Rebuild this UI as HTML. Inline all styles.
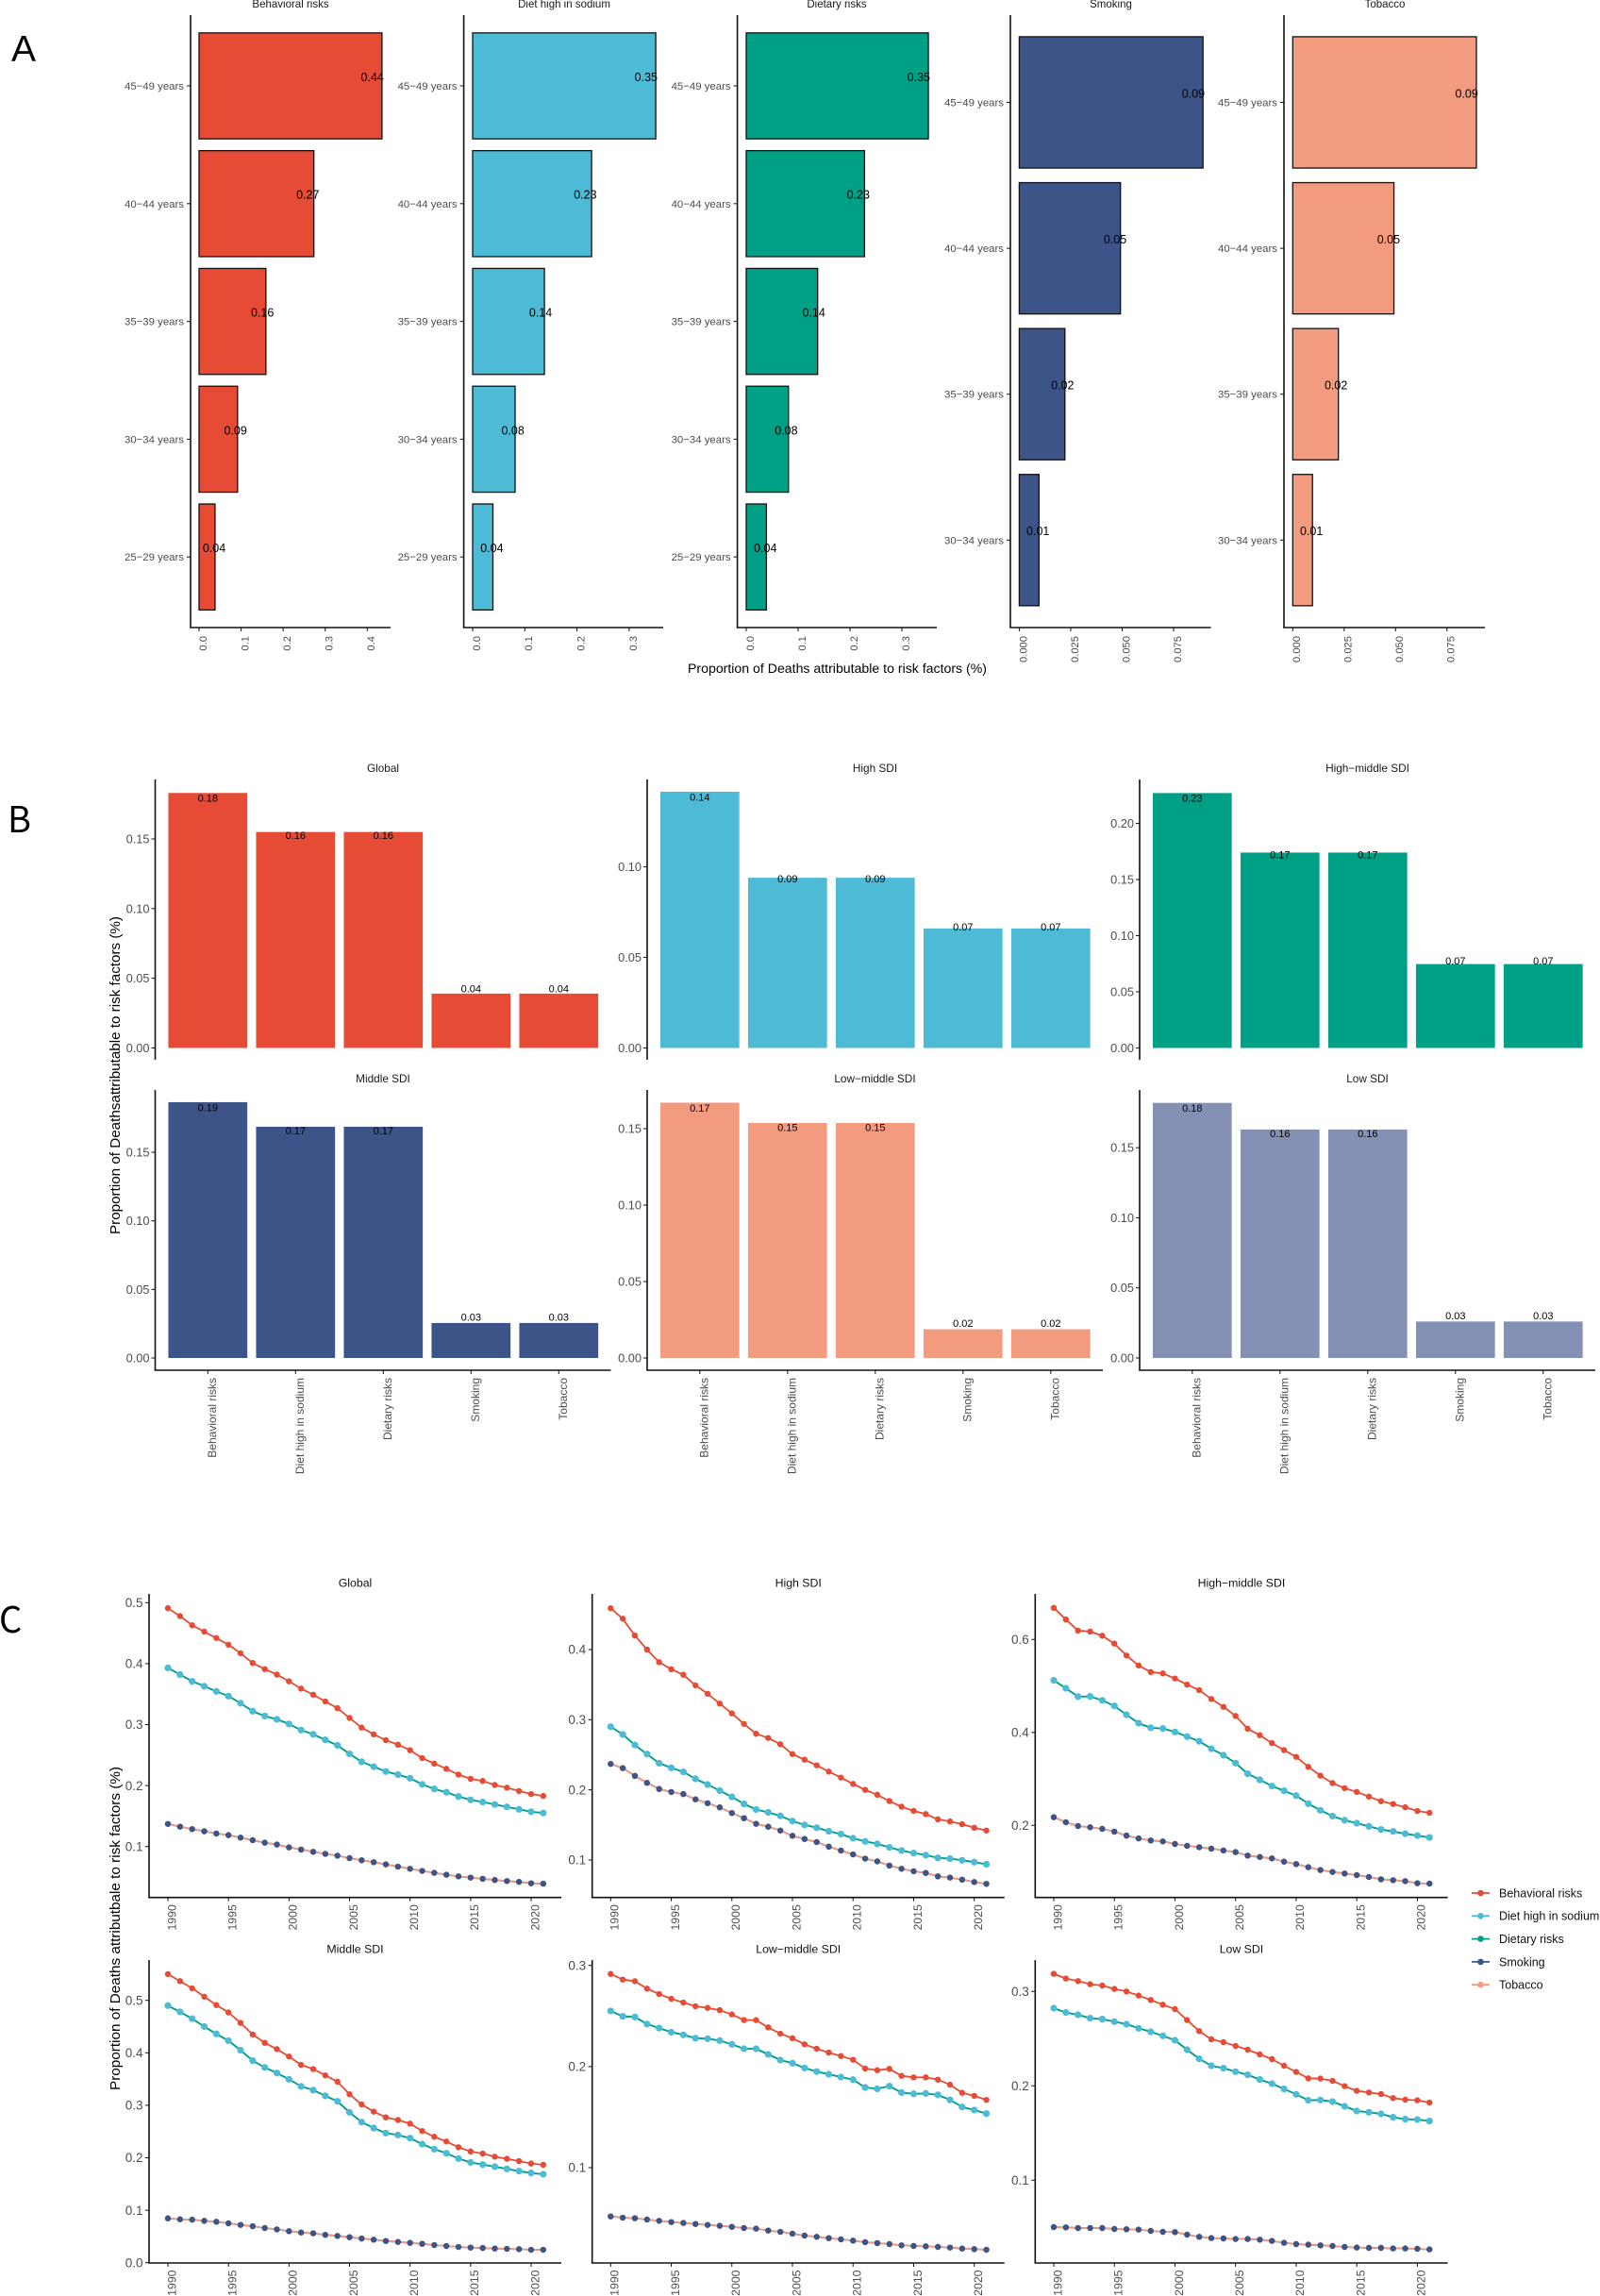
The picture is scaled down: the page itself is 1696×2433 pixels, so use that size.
<!DOCTYPE html>
<html lang="en">
<head>
<meta charset="utf-8">
<title>Proportion of deaths attributable to risk factors</title>
<style>
html,body{margin:0;padding:0;background:#fff;}
svg{display:block;font-family:"Liberation Sans",Arial,sans-serif;}
</style>
</head>
<body>
<svg id="figure" xmlns="http://www.w3.org/2000/svg" width="1696" height="2433" viewBox="0 0 1696 2433">
  <rect x="0" y="0" width="1696" height="2433" fill="#ffffff"/>
  <text x="12" y="65" font-size="39" fill="#000">A</text>
  <text x="8" y="882" font-size="38" fill="#000" style="font-family:'Noto Sans CJK SC',sans-serif">B</text>
  <text x="-1" y="1730" font-size="38" fill="#000" style="font-family:'Noto Sans CJK SC',sans-serif">C</text>
  <text x="887.5" y="713" font-size="14" fill="#000" text-anchor="middle" textLength="317" lengthAdjust="spacingAndGlyphs">Proportion of Deaths attributable to risk factors (%)</text>
  <text transform="translate(127,1139.5) rotate(-90)" font-size="15" fill="#000" text-anchor="middle" textLength="337" lengthAdjust="spacingAndGlyphs">Proportion of Deathsattributable to risk factors (%)</text>
  <text transform="translate(127,2043.5) rotate(-90)" font-size="15" fill="#000" text-anchor="middle" textLength="343" lengthAdjust="spacingAndGlyphs">Proportion of Deaths attributbale to risk factors (%)</text>
  <g id="panel-a"></g>
  <g id="panel-b"></g>
  <g id="panel-c"></g>
  <g id="legend"></g>
</svg>
<script>
/* ---------- Panel A data ---------- */
const agesFive = ["45\u221249 years","40\u221244 years","35\u221239 years","30\u221234 years","25\u221229 years"];
const agesFour = ["45\u221249 years","40\u221244 years","35\u221239 years","30\u221234 years"];
const behavioralByAge = [0.435,0.273,0.159,0.0915,0.038];
const behavioralByAgeLabels = ["0.44","0.27","0.16","0.09","0.04"];
const dietByAge = [0.351,0.228,0.1376,0.0814,0.0389];
const dietByAgeLabels = ["0.35","0.23","0.14","0.08","0.04"];
const dietaryByAge = [0.351,0.228,0.1376,0.0814,0.0389];
const dietaryByAgeLabels = ["0.35","0.23","0.14","0.08","0.04"];
const smokingByAge = [0.0893,0.0492,0.0222,0.0096];
const smokingByAgeLabels = ["0.09","0.05","0.02","0.01"];
const tobaccoByAge = [0.0893,0.0492,0.0222,0.0096];
const tobaccoByAgeLabels = ["0.09","0.05","0.02","0.01"];
const ageTicksBehavioral = ["0.0","0.1","0.2","0.3","0.4"];
const ageTicksDiet = ["0.0","0.1","0.2","0.3"];
const ageTicksSmoking = ["0.000","0.025","0.050","0.075"];

/* ---------- Panel B data ---------- */
const riskNames = ["Behavioral risks","Diet high in sodium","Dietary risks","Smoking","Tobacco"];
const globalBars = [0.183,0.155,0.155,0.039,0.039];
const globalBarLabels = ["0.18","0.16","0.16","0.04","0.04"];
const highBars = [0.1415,0.094,0.094,0.066,0.066];
const highBarLabels = ["0.14","0.09","0.09","0.07","0.07"];
const highMiddleBars = [0.227,0.174,0.174,0.0747,0.0747];
const highMiddleBarLabels = ["0.23","0.17","0.17","0.07","0.07"];
const middleBars = [0.1865,0.1686,0.1686,0.0255,0.0255];
const middleBarLabels = ["0.19","0.17","0.17","0.03","0.03"];
const lowMiddleBars = [0.167,0.1537,0.1537,0.0188,0.0188];
const lowMiddleBarLabels = ["0.17","0.15","0.15","0.02","0.02"];
const lowBars = [0.182,0.163,0.163,0.026,0.026];
const lowBarLabels = ["0.18","0.16","0.16","0.03","0.03"];
const barTicksStandard = ["0.00","0.05","0.10","0.15"];
const barTicksHigh = ["0.00","0.05","0.10"];
const barTicksHighMiddle = ["0.00","0.05","0.10","0.15","0.20"];

/* ---------- Panel C data ---------- */
const years = [1990,1991,1992,1993,1994,1995,1996,1997,1998,1999,2000,2001,2002,2003,2004,2005,2006,2007,2008,2009,2010,2011,2012,2013,2014,2015,2016,2017,2018,2019,2020,2021];
const yearTicks = ["1990","1995","2000","2005","2010","2015","2020"];

const globalBehavioral = [.491,.478,.463,.4525,.442,.431,.417,.401,.391,.382,.371,.359,.349,.338,.327,.311,.295,.284,.2745,.267,.258,.245,.236,.2275,.218,.211,.2075,.201,.1965,.191,.186,.183];
const globalDiet = [.393,.382,.371,.363,.3545,.3467,.335,.322,.314,.3086,.301,.291,.284,.275,.266,.252,.239,.231,.223,.218,.212,.202,.1945,.189,.182,.1765,.173,.169,.165,.161,.157,.155];
const globalDietary = [...globalDiet];
const globalSmoking = [.137,.1326,.1285,.125,.1213,.1187,.1146,.1104,.1063,.1032,.0986,.095,.0913,.088,.085,.081,.0774,.0743,.0707,.067,.0635,.06,.0568,.0537,.051,.049,.047,.045,.0434,.042,.0397,.039];
const globalTobacco = [...globalSmoking];
const globalTicks = ["0.1","0.2","0.3","0.4","0.5"];

const highBehavioral = [.459,.444,.42,.4,.382,.372,.364,.349,.337,.323,.309,.294,.28,.274,.265,.251,.243,.235,.226,.2175,.2085,.2,.193,.184,.176,.17,.1655,.158,.155,.151,.146,.142];
const highDiet = [.29,.279,.264,.251,.238,.2314,.2256,.2157,.2076,.199,.19,.18,.172,.168,.163,.1556,.15,.146,.141,.137,.131,.1265,.123,.118,.1135,.11,.107,.103,.102,.0996,.097,.094];
const highDietary = [...highDiet];
const highSmoking = [.237,.231,.22,.21,.2013,.197,.194,.1865,.181,.175,.167,.1596,.1516,.1475,.142,.1345,.13,.1256,.119,.1135,.108,.102,.098,.092,.0875,.084,.0816,.0767,.075,.072,.0686,.066];
const highTobacco = [...highSmoking];
const highTicks = ["0.1","0.2","0.3","0.4"];

const highMiddleBehavioral = [.668,.643,.619,.617,.608,.591,.5655,.544,.53,.527,.516,.503,.491,.472,.455,.4355,.408,.394,.377,.362,.3475,.326,.307,.291,.28,.272,.262,.252,.246,.239,.231,.227];
const highMiddleDiet = [.512,.495,.477,.4775,.469,.457,.438,.42,.41,.4085,.401,.391,.381,.365,.351,.334,.311,.298,.2846,.2745,.264,.2467,.2325,.22,.211,.2047,.198,.191,.187,.182,.178,.174];
const highMiddleDietary = [...highMiddleDiet];
const highMiddleSmoking = [.2176,.2068,.1986,.196,.1925,.1865,.178,.172,.1675,.1655,.16,.156,.153,.15,.146,.1425,.135,.132,.129,.122,.1167,.11,.104,.0998,.0964,.093,.089,.084,.082,.08,.0755,.0748];
const highMiddleTobacco = [...highMiddleSmoking];
const highMiddleTicks = ["0.2","0.4","0.6"];

const middleBehavioral = [.55,.5366,.523,.507,.491,.477,.457,.435,.419,.407,.393,.377,.369,.357,.345,.321,.3016,.288,.277,.272,.265,.251,.24,.231,.22,.212,.208,.202,.198,.1936,.189,.1865];
const middleDiet = [.49,.478,.465,.45,.436,.423,.405,.385,.372,.3615,.3495,.336,.329,.318,.3076,.2866,.268,.2566,.247,.2434,.2374,.226,.2164,.2086,.1984,.191,.187,.183,.1787,.1745,.171,.1685];
const middleDietary = [...middleDiet];
const middleSmoking = [.0845,.0827,.082,.0797,.078,.075,.072,.0695,.066,.0635,.06,.0575,.056,.053,.051,.0486,.046,.0438,.0414,.0396,.0378,.036,.0336,.0318,.03,.0288,.028,.027,.0264,.0258,.0246,.0246];
const middleTobacco = [...middleSmoking];
const middleTicks = ["0.0","0.1","0.2","0.3","0.4","0.5"];

const lowMiddleBehavioral = [.2916,.286,.2844,.277,.2717,.267,.2633,.2596,.258,.2558,.2515,.246,.2459,.2387,.2325,.228,.222,.2176,.2138,.2104,.2067,.198,.1964,.1977,.1908,.1893,.1893,.187,.182,.174,.171,.167];
const lowMiddleDiet = [.255,.2496,.249,.242,.238,.234,.2313,.228,.2275,.2257,.222,.2176,.2176,.212,.2064,.2033,.1986,.195,.1924,.1896,.187,.1793,.178,.1806,.1743,.173,.1734,.172,.167,.16,.157,.1535];
const lowMiddleDietary = [...lowMiddleDiet];
const lowMiddleSmoking = [.0518,.0505,.05,.0487,.0474,.0462,.0453,.0443,.0434,.0425,.0415,.0403,.0397,.0378,.0365,.0347,.0328,.0316,.0303,.0291,.0278,.0263,.0254,.0244,.0232,.0226,.0222,.0216,.021,.02,.0194,.0188];
const lowMiddleTobacco = [...lowMiddleSmoking];
const lowMiddleTicks = ["0.1","0.2","0.3"];

const lowBehavioral = [.3187,.3137,.311,.3077,.3063,.3027,.3,.2957,.291,.286,.2813,.2697,.258,.2493,.2463,.2423,.2383,.2333,.2283,.2213,.2147,.208,.2077,.2053,.1997,.1947,.193,.1913,.187,.1853,.1847,.1823];
const lowDiet = [.2823,.2777,.2753,.2717,.2707,.268,.2653,.261,.2573,.253,.2483,.2383,.2287,.2213,.2187,.215,.2117,.2067,.2023,.1967,.191,.1847,.185,.1833,.1783,.1733,.172,.1703,.1667,.1647,.1643,.1627];
const lowDietary = [...lowDiet];
const lowSmoking = [.0503,.05,.0493,.0493,.0493,.0483,.048,.0477,.0463,.0453,.045,.0423,.04,.0387,.0383,.0377,.0377,.037,.0357,.0337,.0323,.0317,.031,.0303,.0293,.0287,.0283,.0283,.0277,.0277,.0273,.0267];
const lowTobacco = [...lowSmoking];
const lowTicks = ["0.1","0.2","0.3"];

/* ---------- Palette ---------- */
const RED = "#E64B35", CYAN = "#4DBBD5", GREEN = "#00A087", NAVY = "#3C5488", SALMON = "#F39B7F", SLATE = "#8491B4";
const TICK_TEXT = "#4d4d4d";
const NS = "http://www.w3.org/2000/svg";

/* ---------- Helpers ---------- */
function slug(s){ return String(s).toLowerCase().replace(/[^a-z0-9]+/g,"-").replace(/^-|-$/g,""); }
function linear(d0,d1,r0,r1){ return function(v){ return r0+(v-d0)/(d1-d0)*(r1-r0); }; }
function shape(parent,tag,attrs){
  const e=document.createElementNS(NS,tag);
  for(const k in attrs){ e.setAttribute(k,attrs[k]); }
  parent.appendChild(e);
  return e;
}
function label(parent,x,y,str,size,color,anchor,rotated){
  const e=document.createElementNS(NS,"text");
  if(rotated){ e.setAttribute("transform","translate("+x+","+y+") rotate(-90)"); }
  else { e.setAttribute("x",x); e.setAttribute("y",y); }
  e.setAttribute("dy",".35em");
  e.setAttribute("font-size",size);
  e.setAttribute("fill",color);
  e.setAttribute("text-anchor",anchor);
  e.textContent=str;
  parent.appendChild(e);
  return e;
}
function axisLine(parent,x1,y1,x2,y2,width){
  return shape(parent,"line",{x1:x1,y1:y1,x2:x2,y2:y2,stroke:"#111",'stroke-width':width});
}

/* ---------- Panel A: horizontal bars by age ---------- */
function drawAgePanel(p){
  const root=document.getElementById("panel-a");
  const g=shape(root,"g",{});
  
  
  const x=linear(0,parseFloat(p.ticks[p.ticks.length-1]),p.zeroX,p.lastTickX);
  const bandY=function(i){ return p.firstY+i*p.step; };
  const t=label(g,p.titleX,4,p.title,11.5,"#1a1a1a","middle",false);
  
  
  p.values.forEach(function(v,i){
    const b=shape(g,"rect",{x:x(0),y:bandY(i)-p.step*0.45,width:x(v)-x(0),height:p.step*0.9,fill:p.fill,stroke:"#111",'stroke-width':1.3});
    
    
  });
  const ya=axisLine(g,p.axisX,16,p.axisX,665,1.6);
  
  
  const xa=axisLine(g,p.axisX-0.8,665,p.axisEnd,665,1.6);
  
  
  p.categories.forEach(function(c,i){
    const m=axisLine(g,p.axisX-4,bandY(i),p.axisX,bandY(i),1);
    
    
    const l=label(g,p.axisX-7,bandY(i),c,11.4,TICK_TEXT,"end",false);
    
    
  });
  p.ticks.forEach(function(tk){
    const px=x(parseFloat(tk));
    const m=axisLine(g,px,665,px,669,1);
    
    
    const l=label(g,px+4,674,tk,11.2,TICK_TEXT,"end",true);
    
    
  });
  p.values.forEach(function(v,i){
    const l=label(g,x(v*0.947),bandY(i)-9.5,p.labels[i],12.5,"#000","middle",false);
    
    
  });
}
drawAgePanel({title:"Behavioral risks",categories:agesFive,values:behavioralByAge,labels:behavioralByAgeLabels,ticks:ageTicksBehavioral,fill:RED,axisX:202,axisEnd:414,zeroX:211,lastTickX:389.3,firstY:91,step:124.8,titleX:308});
drawAgePanel({title:"Diet high in sodium",categories:agesFive,values:dietByAge,labels:dietByAgeLabels,ticks:ageTicksDiet,fill:CYAN,axisX:491.6,axisEnd:703,zeroX:501,lastTickX:666.9,firstY:91,step:124.8,titleX:598});
drawAgePanel({title:"Dietary risks",categories:agesFive,values:dietaryByAge,labels:dietaryByAgeLabels,ticks:ageTicksDiet,fill:GREEN,axisX:781.6,axisEnd:993,zeroX:791,lastTickX:956,firstY:91,step:124.8,titleX:887});
drawAgePanel({title:"Smoking",categories:agesFour,values:smokingByAge,labels:smokingByAgeLabels,ticks:ageTicksSmoking,fill:NAVY,axisX:1071,axisEnd:1283.6,zeroX:1080.4,lastTickX:1244,firstY:108.5,step:154.6,titleX:1177.5});
drawAgePanel({title:"Tobacco",categories:agesFour,values:tobaccoByAge,labels:tobaccoByAgeLabels,ticks:ageTicksSmoking,fill:SALMON,axisX:1361,axisEnd:1574,zeroX:1370.3,lastTickX:1533.8,firstY:108.5,step:154.6,titleX:1468});

/* ---------- Panel B: vertical bars by SDI ---------- */
function drawBarPanel(p){
  const root=document.getElementById("panel-b");
  const g=shape(root,"g",{});
  
  
  const y=linear(0,parseFloat(p.ticks[p.ticks.length-1]),p.zeroY,p.lastTickY);
  const bandX=function(i){ return p.axisX+55.8+i*93; };
  const t=label(g,p.axisX+241.5,p.top-12,p.title,11.8,"#1a1a1a","middle",false);
  
  
  p.values.forEach(function(v,i){
    const b=shape(g,"rect",{x:bandX(i)-41.85,y:y(v),width:83.7,height:y(0)-y(v),fill:p.fill});
    
    
  });
  const ya=axisLine(g,p.axisX,p.top,p.axisX,p.bottom,1.6);
  
  
  p.ticks.forEach(function(tk){
    const py=y(parseFloat(tk));
    const m=axisLine(g,p.axisX-4,py,p.axisX,py,1);
    
    
    const l=label(g,p.axisX-6,py,tk,12.8,TICK_TEXT,"end",false);
    
    
  });
  if(p.showX){
    const xa=axisLine(g,p.axisX-0.8,p.bottom,p.axisX+483,p.bottom,1.6);
    
    
    riskNames.forEach(function(n,i){
      const m=axisLine(g,bandX(i),p.bottom,bandX(i),p.bottom+4,1);
      
      
      const l=label(g,bandX(i)+4.5,p.bottom+8,n,12,TICK_TEXT,"end",true);
      
      
    });
  }
  p.values.forEach(function(v,i){
    const zeroPx=y(0);
    const l=label(g,bandX(i),zeroPx-(zeroPx-y(v))*0.95-8,p.labels[i],11,"#000","middle",false);
    
    
  });
}
drawBarPanel({title:"Global",values:globalBars,labels:globalBarLabels,ticks:barTicksStandard,fill:RED,axisX:164.5,top:826,bottom:1123,zeroY:1110.5,lastTickY:889,showX:false});
drawBarPanel({title:"High SDI",values:highBars,labels:highBarLabels,ticks:barTicksHigh,fill:CYAN,axisX:686,top:826,bottom:1123,zeroY:1110.5,lastTickY:918.6,showX:false});
drawBarPanel({title:"High\u2212middle SDI",values:highMiddleBars,labels:highMiddleBarLabels,ticks:barTicksHighMiddle,fill:GREEN,axisX:1208,top:826,bottom:1123,zeroY:1110.5,lastTickY:872.5,showX:false});
drawBarPanel({title:"Middle SDI",values:middleBars,labels:middleBarLabels,ticks:barTicksStandard,fill:NAVY,axisX:164.5,top:1155,bottom:1452,zeroY:1439,lastTickY:1221,showX:true});
drawBarPanel({title:"Low\u2212middle SDI",values:lowMiddleBars,labels:lowMiddleBarLabels,ticks:barTicksStandard,fill:SALMON,axisX:686,top:1155,bottom:1452,zeroY:1439,lastTickY:1196,showX:true});
drawBarPanel({title:"Low SDI",values:lowBars,labels:lowBarLabels,ticks:barTicksStandard,fill:SLATE,axisX:1208,top:1155,bottom:1452,zeroY:1439,lastTickY:1216.2,showX:true});

/* ---------- Panel C: trend lines ---------- */
function drawLinePanel(p){
  const root=document.getElementById("panel-c");
  const g=shape(root,"g",{});
  
  
  const x=linear(1990,2020,p.x1990,p.x2020);
  const y=linear(parseFloat(p.ticks[0]),parseFloat(p.ticks[p.ticks.length-1]),p.firstTickY,p.lastTickY);
  const t=label(g,(p.axisX+p.axisEnd)/2,p.top-12,p.title,12.3,"#111","middle",false);
  
  
  const ya=axisLine(g,p.axisX,p.top,p.axisX,p.bottom,1.6);
  
  
  const xa=axisLine(g,p.axisX-0.8,p.bottom,p.axisEnd,p.bottom,1.6);
  
  
  p.ticks.forEach(function(tk){
    const py=y(parseFloat(tk));
    const m=axisLine(g,p.axisX-4,py,p.axisX,py,1);
    
    
    const l=label(g,p.axisX-6.5,py,tk,13.5,TICK_TEXT,"end",false);
    
    
  });
  yearTicks.forEach(function(tk){
    const px=x(parseFloat(tk));
    const m=axisLine(g,px,p.bottom,px,p.bottom+4,1);
    
    
    const l=label(g,px+4,p.bottom+7.5,tk,12.3,TICK_TEXT,"end",true);
    
    
  });
  const lineSeries=[[p.behavioral,RED,"behavioral-risks"],[p.diet,CYAN,"diet-high-in-sodium"],[p.dietary,GREEN,"dietary-risks"],[p.smoking,NAVY,"smoking"],[p.tobacco,SALMON,"tobacco"]];
  lineSeries.forEach(function(s){
    const pts=s[0].map(function(v,i){ return x(years[i]).toFixed(1)+","+y(v).toFixed(1); }).join(" ");
    const ln=shape(g,"polyline",{points:pts,fill:"none",stroke:s[1],'stroke-width':1.8,'stroke-linejoin':"round"});
    
    
  });
  const pointSeries=[[p.dietary,GREEN,3.3,"dietary-risks"],[p.diet,CYAN,3.6,"diet-high-in-sodium"],[p.tobacco,SALMON,3.2,"tobacco"],[p.smoking,NAVY,3.2,"smoking"],[p.behavioral,RED,3.2,"behavioral-risks"]];
  pointSeries.forEach(function(s){
    s[0].forEach(function(v,i){
      const c=shape(g,"circle",{cx:x(years[i]),cy:y(v),r:s[2],fill:s[1]});
      
      
    });
  });
}
drawLinePanel({title:"Global",ticks:globalTicks,behavioral:globalBehavioral,diet:globalDiet,dietary:globalDietary,smoking:globalSmoking,tobacco:globalTobacco,axisX:158,axisEnd:595,x1990:178,x2020:563,top:1689,bottom:2010.7,firstTickY:1956.7,lastTickY:1698.3});
drawLinePanel({title:"High SDI",ticks:highTicks,behavioral:highBehavioral,diet:highDiet,dietary:highDietary,smoking:highSmoking,tobacco:highTobacco,axisX:627.7,axisEnd:1064.7,x1990:647.3,x2020:1032.7,top:1689,bottom:2010.7,firstTickY:1971,lastTickY:1748});
drawLinePanel({title:"High\u2212middle SDI",ticks:highMiddleTicks,behavioral:highMiddleBehavioral,diet:highMiddleDiet,dietary:highMiddleDietary,smoking:highMiddleSmoking,tobacco:highMiddleTobacco,axisX:1097.3,axisEnd:1534.6,x1990:1117,x2020:1502.4,top:1689,bottom:2010.7,firstTickY:1934.3,lastTickY:1737.3});
drawLinePanel({title:"Middle SDI",ticks:middleTicks,behavioral:middleBehavioral,diet:middleDiet,dietary:middleDietary,smoking:middleSmoking,tobacco:middleTobacco,axisX:158,axisEnd:595,x1990:178,x2020:563,top:2077,bottom:2398,firstTickY:2397.7,lastTickY:2119.7});
drawLinePanel({title:"Low\u2212middle SDI",ticks:lowMiddleTicks,behavioral:lowMiddleBehavioral,diet:lowMiddleDiet,dietary:lowMiddleDietary,smoking:lowMiddleSmoking,tobacco:lowMiddleTobacco,axisX:627.7,axisEnd:1064.7,x1990:647.3,x2020:1032.7,top:2077,bottom:2398,firstTickY:2297,lastTickY:2082.7});
drawLinePanel({title:"Low SDI",ticks:lowTicks,behavioral:lowBehavioral,diet:lowDiet,dietary:lowDietary,smoking:lowSmoking,tobacco:lowTobacco,axisX:1097.3,axisEnd:1534.6,x1990:1117,x2020:1502.4,top:2077,bottom:2398,firstTickY:2310.3,lastTickY:2110.3});

/* ---------- Legend ---------- */
(function(){
  const root=document.getElementById("legend");
  const colours=[RED,CYAN,GREEN,NAVY,SALMON];
  riskNames.forEach(function(n,i){
    const yy=2006+i*24.3;
    const g=shape(root,"g",{});
    
    
    const ln=shape(g,"line",{x1:1560,y1:yy,x2:1579,y2:yy,stroke:colours[i],'stroke-width':1.8});
    
    
    const c=shape(g,"circle",{cx:1569.5,cy:yy,r:3.3,fill:colours[i]});
    
    
    const t=label(g,1589,yy,n,12.5,"#111","start",false);
    
    
  });
})();
</script>
</body>
</html>
